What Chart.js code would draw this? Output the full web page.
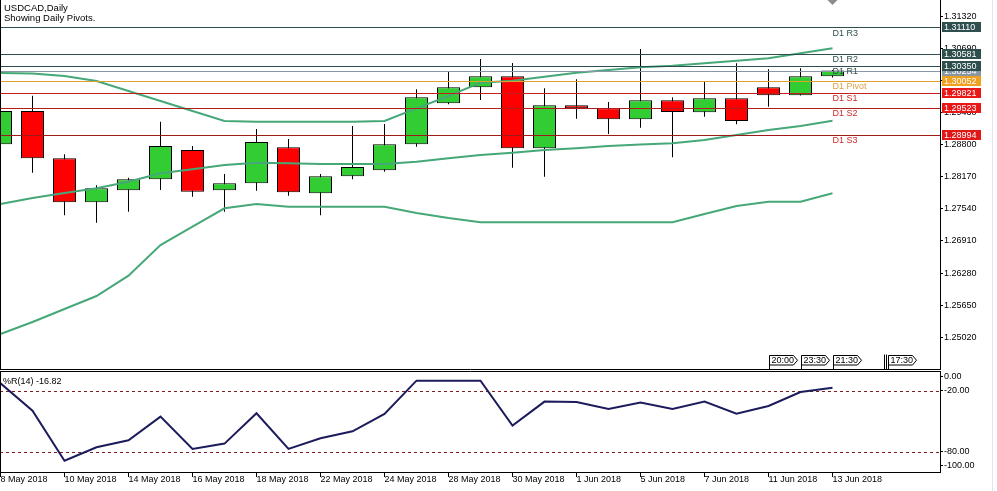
<!DOCTYPE html>
<html><head><meta charset="utf-8">
<script src="https://cdn.jsdelivr.net/npm/chart.js@4.4.1/dist/chart.umd.min.js"></script>
<style>
html,body{margin:0;padding:0;background:#fff;width:997px;height:491px;overflow:hidden;position:relative}
#c1{position:absolute;left:0;top:0;width:997px;height:370px}
#c2{position:absolute;left:0;top:370px;width:997px;height:121px}
#edge{position:absolute;left:992px;top:0;width:1px;height:491px;background:#e4e4e4}
</style></head><body>
<canvas id="c1" width="997" height="370"></canvas>
<canvas id="c2" width="997" height="121"></canvas>
<div id="edge"></div>
<script>
// ---------------- DATA ----------------
const dates = ['8 May 2018','9 May 2018','10 May 2018','11 May 2018','14 May 2018','15 May 2018','16 May 2018','17 May 2018','18 May 2018','21 May 2018','22 May 2018','23 May 2018','24 May 2018','25 May 2018','28 May 2018','29 May 2018','30 May 2018','31 May 2018','1 Jun 2018','4 Jun 2018','5 Jun 2018','6 Jun 2018','7 Jun 2018','8 Jun 2018','11 Jun 2018','12 Jun 2018','13 Jun 2018'];
const opens  = [1.28808,1.29461,1.28533,1.27670,1.27905,1.28121,1.28696,1.27905,1.28042,1.28749,1.27846,1.28180,1.28298,1.28808,1.29613,1.29927,1.30143,1.28729,1.29573,1.29514,1.29299,1.29671,1.29436,1.29711,1.29927,1.29770,1.30143];
const highs  = [1.29600,1.29762,1.28612,1.28003,1.28152,1.29251,1.28774,1.28225,1.29108,1.28912,1.28225,1.29167,1.29206,1.29887,1.30227,1.30482,1.30404,1.29907,1.30084,1.29638,1.30678,1.29730,1.30031,1.30398,1.30280,1.30300,1.30266];
const lows   = [1.28700,1.28250,1.27414,1.27269,1.27485,1.27911,1.27779,1.27485,1.27897,1.27799,1.27414,1.28121,1.28270,1.28761,1.29593,1.29677,1.28349,1.28172,1.29310,1.29010,1.29134,1.28553,1.29350,1.29200,1.29546,1.29765,1.30120];
const closes = [1.29461,1.28533,1.27670,1.27944,1.28121,1.28774,1.27878,1.28042,1.28853,1.27866,1.28180,1.28362,1.28808,1.29730,1.29927,1.30143,1.28729,1.29573,1.29514,1.29299,1.29671,1.29442,1.29711,1.29265,1.29770,1.30143,1.30254];
const upperBand  = [1.30207,1.30197,1.30148,1.30050,1.29854,1.29658,1.29461,1.29265,1.29251,1.29251,1.29251,1.29251,1.29265,1.29514,1.29756,1.30017,1.30056,1.30135,1.30213,1.30266,1.30319,1.30351,1.30398,1.30449,1.30496,1.30594,1.30692];
const middleBand = [1.27636,1.27754,1.27852,1.27944,1.28074,1.28239,1.28317,1.28402,1.28447,1.28435,1.28421,1.28421,1.28421,1.28466,1.28533,1.28598,1.28643,1.28696,1.28729,1.28774,1.28804,1.28827,1.28892,1.28990,1.29089,1.29167,1.29271];
const lowerBand  = [1.25085,1.25320,1.25575,1.25830,1.26229,1.26831,1.27191,1.27552,1.27636,1.27583,1.27583,1.27583,1.27583,1.27460,1.27361,1.27277,1.27277,1.27277,1.27277,1.27277,1.27277,1.27277,1.27440,1.27597,1.27681,1.27681,1.27846];
const wpr = [-12.4,-39.4,-88.9,-75.6,-68.7,-45.3,-77.3,-72.0,-42.0,-77.3,-66.7,-59.8,-42.7,-9.8,-9.8,-9.8,-54.2,-30.5,-30.8,-37.8,-31.5,-37.8,-30.5,-42.4,-34.8,-21.0,-16.82];
const pivotNames  = ['D1 R3','D1 R2','D1 R1','D1 Pivot','D1 S1','D1 S2','D1 S3'];
const pivotValues = [1.31110,1.30581,1.30350,1.30052,1.29821,1.29523,1.28994];
const bidPrice = 1.30254;
const priceTicks = [1.31320,1.30690,1.30060,1.29430,1.28800,1.28170,1.27540,1.26910,1.26280,1.25650,1.25020];
const wprTicks = [0,-20,-80,-100];
const wprLevels = [-20,-80];
const dateTickIdx = [0,2,4,6,8,10,12,14,16,18,20,22,24,26];
const eventTimes = ['20:00','23:30','21:30','17:30'];
const eventIdx = [24,25,26,27.73];
const eventLineIdx = 27.62;

// ---------------- STYLE ----------------
const FONT = '"Liberation Sans", Arial, sans-serif';
Chart.defaults.font.family = FONT;
Chart.defaults.font.size = 9;
Chart.defaults.color = '#000';
const GREEN = '#32CD32', RED = '#FF0000', BAND = '#46A878';
const pivotLineColors = ['#2F4F4F','#2F4F4F','#2F4F4F','#E0A030','#C41E1E','#B01C1C','#A01818'];
const pivotTextColors = ['#2F4F4F','#2F4F4F','#2F4F4F','#E0A040','#D02828','#D02828','#D02828'];
const pivotBoxColors  = ['#2F4F4F','#2F4F4F','#2F4F4F','#F0A020','#E81818','#E81818','#E01818'];
const BID_COLOR = '#8A96A3';
const xMin = -0.015625, xMax = 29.359375;
const yMin = 1.24378, yMax = 1.31640;

const idx = dates.map((d,i)=>i);

// ---------------- MAIN CHART ----------------
const mainOverlay = {
  id:'mainOverlay',
  afterDatasetsDraw(chart){
    const {ctx, chartArea:a, scales:{x,y}} = chart;
    ctx.save();
    ctx.lineWidth = 1;
    let py = Math.round(y.getPixelForValue(bidPrice)) + 0.5;
    ctx.strokeStyle = BID_COLOR;
    ctx.beginPath(); ctx.moveTo(a.left, py); ctx.lineTo(a.right, py); ctx.stroke();
    pivotValues.forEach((v,k)=>{
      const p = Math.round(y.getPixelForValue(v)) + 0.5;
      ctx.strokeStyle = pivotLineColors[k];
      ctx.beginPath(); ctx.moveTo(a.left, p); ctx.lineTo(a.right, p); ctx.stroke();
    });
    ctx.restore();
  },
  afterDraw(chart){
    const {ctx, chartArea:a, scales:{x,y}} = chart;
    ctx.save();
    ctx.strokeStyle = '#000'; ctx.lineWidth = 1;
    ctx.beginPath();
    ctx.moveTo(a.left+0.5, a.top); ctx.lineTo(a.left+0.5, a.bottom);
    ctx.moveTo(a.left, a.bottom-0.5); ctx.lineTo(a.right+1, a.bottom-0.5);
    ctx.stroke();
    ctx.font = '9px ' + FONT;
    ctx.textAlign = 'left'; ctx.textBaseline = 'alphabetic';
    const lx = x.getPixelForValue(dates.length-1);
    pivotNames.forEach((n,k)=>{
      const p = y.getPixelForValue(pivotValues[k]);
      ctx.fillStyle = pivotTextColors[k];
      ctx.fillText(n, lx, p + 8.5);
    });
    const boxes = [{v:bidPrice, c:BID_COLOR}].concat(pivotValues.map((v,k)=>({v, c:pivotBoxColors[k]})));
    ctx.textBaseline = 'middle';
    boxes.forEach(b=>{
      const p = Math.round(y.getPixelForValue(b.v));
      ctx.fillStyle = b.c;
      ctx.fillRect(a.right+2, p-5, 39, 10);
      ctx.fillStyle = '#fff';
      ctx.fillText(b.v.toFixed(5), a.right+4, p+0.5);
    });
    ctx.strokeStyle = '#000';
    const y0 = a.bottom - 14.5, y1 = a.bottom - 5;
    eventTimes.forEach((t,k)=>{
      const px = Math.round(x.getPixelForValue(eventIdx[k])) + 0.5;
      ctx.beginPath();
      ctx.moveTo(px, a.bottom); ctx.lineTo(px, y0); ctx.lineTo(px+24, y0);
      ctx.lineTo(px+28, (y0+y1)/2); ctx.lineTo(px+24, y1); ctx.lineTo(px, y1);
      ctx.fillStyle = '#fff'; ctx.fill(); ctx.stroke();
      ctx.fillStyle = '#000'; ctx.textAlign = 'left'; ctx.textBaseline = 'middle';
      ctx.fillText(t, px+2, (y0+y1)/2 + 0.5);
    });
    const lp = Math.round(x.getPixelForValue(eventLineIdx)) + 0.5;
    ctx.beginPath();
    ctx.moveTo(lp, y0-1); ctx.lineTo(lp, a.bottom);
    ctx.moveTo(lp+2, y0-1); ctx.lineTo(lp+2, a.bottom);
    ctx.stroke();
    const tx = x.getPixelForValue(dates.length-1);
    ctx.fillStyle = '#8C8C8C';
    ctx.beginPath(); ctx.moveTo(tx-5, a.top); ctx.lineTo(tx+5, a.top); ctx.lineTo(tx, a.top+5); ctx.closePath(); ctx.fill();
    ctx.fillStyle = '#000'; ctx.textAlign = 'left'; ctx.textBaseline = 'alphabetic';
    ctx.font = '9.5px ' + FONT;
    ctx.fillText('USDCAD,Daily', 4, 10.5);
    ctx.fillText('Showing Daily Pivots.', 4, 20.5);
    ctx.restore();
  }
};

new Chart(document.getElementById('c1'), {
  type:'bar',
  data:{
    datasets:[
      { type:'line', data: idx.map(i=>({x:i, y:upperBand[i]})), borderColor:BAND, borderWidth:2, pointRadius:0, tension:0, fill:false, order:0 },
      { type:'line', data: idx.map(i=>({x:i, y:middleBand[i]})), borderColor:BAND, borderWidth:2, pointRadius:0, tension:0, fill:false, order:0 },
      { type:'line', data: idx.map(i=>({x:i, y:lowerBand[i]})), borderColor:BAND, borderWidth:2, pointRadius:0, tension:0, fill:false, order:0 },
      { type:'bar', data: idx.map(i=>({x:i, y:[opens[i], closes[i]]})),
        backgroundColor: idx.map(i=> closes[i] >= opens[i] ? GREEN : RED),
        borderColor:'#000', borderWidth:1, borderSkipped:false, barThickness:23, grouped:false, inflateAmount:0, order:1 },
      { type:'bar', data: idx.map(i=>({x:i, y:[lows[i], highs[i]]})),
        backgroundColor:'#000', borderWidth:0, barThickness:1, grouped:false, inflateAmount:0, order:2 }
    ]
  },
  options:{
    responsive:false, animation:false, devicePixelRatio:1,
    layout:{ padding:0, autoPadding:false },
    plugins:{ legend:{display:false}, tooltip:{enabled:false} },
    scales:{
      x:{ type:'linear', min:xMin, max:xMax, bounds:'data', offset:false, display:false, grid:{offset:false} },
      y:{ type:'linear', position:'right', min:yMin, max:yMax, bounds:'data',
          afterBuildTicks: s => { s.ticks = priceTicks.map(v=>({value:v})); },
          afterFit: s => { s.width = 57; s.paddingTop = 0; s.paddingBottom = 0; },
          ticks:{ callback: v => Number(v).toFixed(5), color:'#000', padding:1, autoSkip:false, font:{size:9} },
          grid:{ drawOnChartArea:false, drawTicks:true, tickLength:3, tickColor:'#000' },
          border:{ display:true, color:'#000', width:1 } }
    }
  },
  plugins:[mainOverlay]
});

// ---------------- INDICATOR CHART ----------------
const wprOverlay = {
  id:'wprOverlay',
  beforeDatasetsDraw(chart){
    const {ctx, chartArea:a, scales:{y}} = chart;
    ctx.save();
    ctx.strokeStyle = '#7A1E1E'; ctx.lineWidth = 1; ctx.setLineDash([3,3]);
    wprLevels.forEach(v=>{
      const p = Math.round(y.getPixelForValue(v)) + 0.5;
      ctx.beginPath(); ctx.moveTo(a.left, p); ctx.lineTo(a.right, p); ctx.stroke();
    });
    ctx.restore();
  },
  afterDraw(chart){
    const {ctx, chartArea:a} = chart;
    ctx.save();
    ctx.strokeStyle = '#000'; ctx.lineWidth = 1;
    ctx.beginPath();
    ctx.moveTo(a.left, a.top+0.5); ctx.lineTo(a.right+1, a.top+0.5);
    ctx.moveTo(a.left+0.5, a.top); ctx.lineTo(a.left+0.5, a.bottom);
    ctx.stroke();
    ctx.fillStyle = '#000'; ctx.font = '9px ' + FONT; ctx.textAlign = 'left'; ctx.textBaseline = 'alphabetic';
    ctx.fillText('%R(14) ' + wpr[wpr.length-1].toFixed(2), 3, a.top + 13);
    ctx.restore();
  }
};

new Chart(document.getElementById('c2'), {
  type:'line',
  data:{ datasets:[ { data: idx.map(i=>({x:i, y:wpr[i]})), borderColor:'#1C1C5C', borderWidth:2, pointRadius:0, tension:0, fill:false } ] },
  options:{
    responsive:false, animation:false, devicePixelRatio:1,
    layout:{ padding:{top:1,left:0,right:0,bottom:0}, autoPadding:false },
    plugins:{ legend:{display:false}, tooltip:{enabled:false} },
    scales:{
      x:{ type:'linear', min:xMin, max:xMax, bounds:'data',
          afterBuildTicks: s => { s.ticks = dateTickIdx.map(v=>({value:v})); },
          afterFit: s => { s.height = 19; s.paddingLeft = 0; s.paddingRight = 0; },
          ticks:{ callback: v => dates[v] || '', align:'start', autoSkip:false, maxRotation:0, padding:-3, color:'#000', font:{size:9} },
          grid:{ drawOnChartArea:false, drawTicks:true, tickLength:5, tickColor:'#000' },
          border:{ display:true, color:'#000' } },
      y:{ type:'linear', position:'right', min:-100.07, max:-0.23, bounds:'data',
          afterBuildTicks: s => { s.ticks = wprTicks.map(v=>({value: Math.min(Math.max(v, s.min + 6), s.max - 5.6)})); },
          afterFit: s => { s.width = 57; s.paddingTop = 0; s.paddingBottom = 0; },
          ticks:{ callback: (v,i) => wprTicks[i].toFixed(2), color:'#000', padding:1, autoSkip:false, font:{size:9} },
          grid:{ drawOnChartArea:false, drawTicks:true, tickLength:3, tickColor:'#000' },
          border:{ display:true, color:'#000' } }
    }
  },
  plugins:[wprOverlay]
});
</script>
</body></html>
